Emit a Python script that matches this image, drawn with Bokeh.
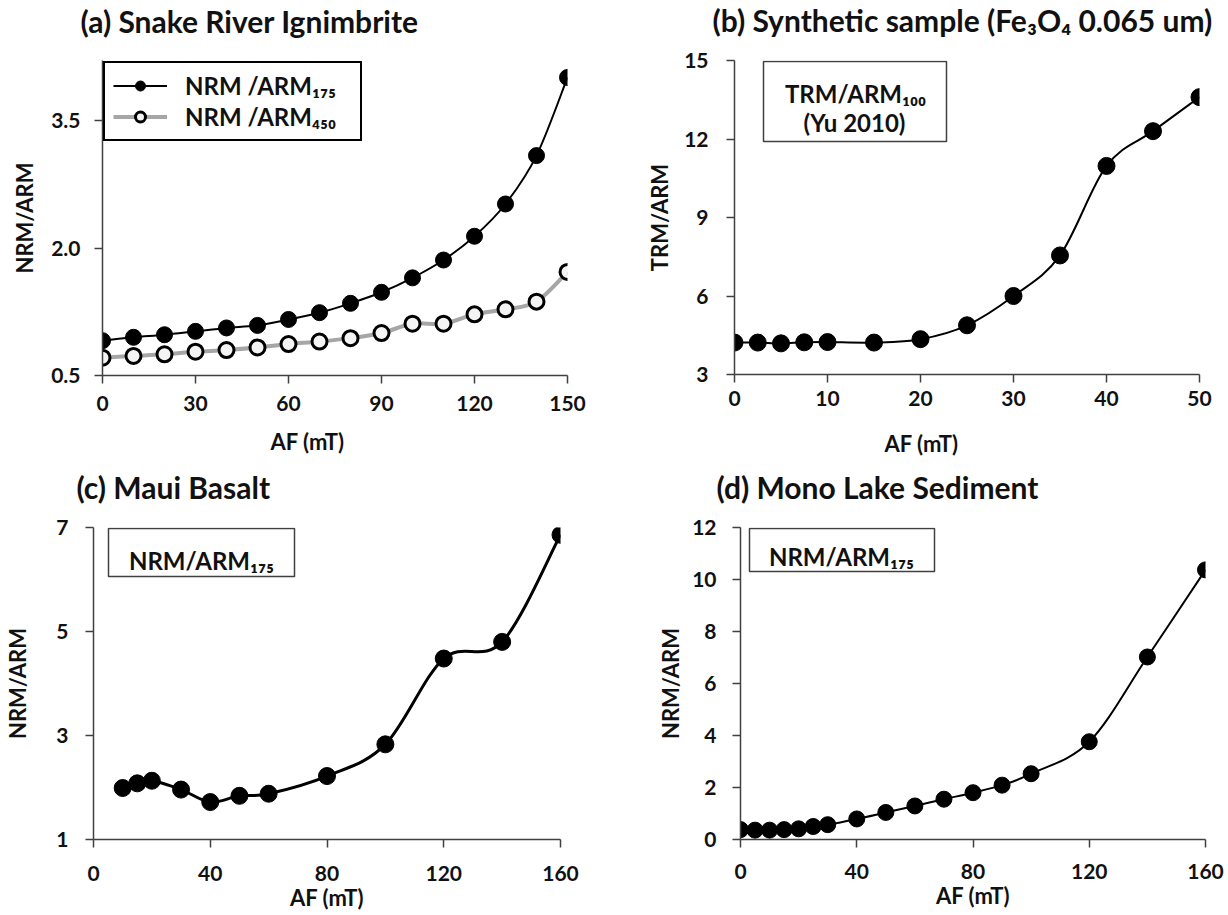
import math
from bokeh.plotting import figure
from bokeh.models import (Label, BoxAnnotation, Legend, LegendItem, FixedTicker,
                          PrintfTickFormatter, Range1d, Title)
from bokeh.layouts import column, row
from bokeh.embed import file_html
from bokeh.resources import INLINE

# ---------------- data ----------------
a_af = [0, 10, 20, 30, 40, 50, 60, 70, 80, 90, 100, 110, 120, 130, 140, 150]
a_arm175 = [0.91, 0.95, 0.98, 1.02, 1.06, 1.09, 1.16, 1.24, 1.35, 1.48, 1.65, 1.86, 2.14, 2.52, 3.09, 4.01]
a_arm450 = [0.71, 0.73, 0.75, 0.78, 0.80, 0.83, 0.87, 0.90, 0.94, 1.00, 1.11, 1.11, 1.22, 1.28, 1.37, 1.72]

b_af = [0, 2.5, 5, 7.5, 10, 15, 20, 25, 30, 35, 40, 45, 50]
b_ratio = [4.22, 4.22, 4.19, 4.23, 4.24, 4.22, 4.35, 4.88, 6.0, 7.55, 10.97, 12.3, 13.6]

c_af = [10, 15, 20, 30, 40, 50, 60, 80, 100, 120, 140, 160]
c_ratio = [1.99, 2.08, 2.13, 1.96, 1.72, 1.84, 1.88, 2.22, 2.83, 4.48, 4.80, 6.86]

d_af = [0, 5, 10, 15, 20, 25, 30, 40, 50, 60, 70, 80, 90, 100, 120, 140, 160]
d_ratio = [0.38, 0.36, 0.36, 0.38, 0.41, 0.50, 0.57, 0.79, 1.04, 1.29, 1.55, 1.80, 2.09, 2.53, 3.76, 7.02, 10.37]

a_xticks = [0, 30, 60, 90, 120, 150]
a_yticks = [0.5, 2.0, 3.5]
b_xticks = [0, 10, 20, 30, 40, 50]
b_yticks = [3, 6, 9, 12, 15]
c_xticks = [0, 40, 80, 120, 160]
c_yticks = [1, 3, 5, 7]
d_xticks = [0, 40, 80, 120, 160]
d_yticks = [0, 2, 4, 6, 8, 10, 12]

titles = ["(a) Snake River Ignimbrite",
          "(b) Synthetic sample (Fe\u2083O\u2084 0.065 um)",
          "(c) Maui Basalt",
          "(d) Mono Lake Sediment"]
x_label = "AF (mT)"

FONT = "Lato"
AXC = "#404040"
TXT = "#111111"
HALF = 614


def smooth(xs, ys):
    """Bezier segments (Catmull-Rom style, like a spreadsheet smoothed line)."""
    n = len(xs)
    out = dict(x0=[], y0=[], x1=[], y1=[], cx0=[], cy0=[], cx1=[], cy1=[])
    for i in range(n - 1):
        i0 = max(i - 1, 0)
        i3 = min(i + 2, n - 1)
        out["x0"].append(xs[i]); out["y0"].append(ys[i])
        out["x1"].append(xs[i + 1]); out["y1"].append(ys[i + 1])
        out["cx0"].append(xs[i] + (xs[i + 1] - xs[i0]) / 6.0)
        out["cy0"].append(ys[i] + (ys[i + 1] - ys[i0]) / 6.0)
        out["cx1"].append(xs[i + 1] - (xs[i3] - xs[i]) / 6.0)
        out["cy1"].append(ys[i + 1] - (ys[i3] - ys[i]) / 6.0)
    return out


def title_obj(text, size, align, offset, standoff):
    return Title(text=text, align=align, offset=offset, standoff=standoff, vertical_align="top",
                 text_font=FONT, text_font_style="bold", text_font_size=size, text_color=TXT)


def make_fig(fw, fh, left, right, top, bottom, xr, yr, xt, yt, xso, yso, ylab, ystd):
    p = figure(frame_width=fw, frame_height=fh, min_border_left=left, min_border_right=right,
               min_border_top=top, min_border_bottom=bottom, x_range=Range1d(*xr),
               y_range=Range1d(*yr), toolbar_location=None, output_backend="svg")
    p.outline_line_color = None
    p.grid.visible = False
    p.background_fill_color = "white"
    p.border_fill_color = "white"
    for ax, ticks, so in ((p.xaxis, xt, xso), (p.yaxis, yt, yso)):
        ax.ticker = FixedTicker(ticks=ticks, minor_ticks=[])
        ax.axis_line_color = AXC
        ax.axis_line_width = 1.5
        ax.major_tick_line_color = AXC
        ax.major_tick_line_width = 1.5
        ax.major_tick_out = 8
        ax.major_tick_in = 0
        ax.minor_tick_line_color = None
        ax.major_label_text_font = FONT
        ax.major_label_text_font_style = "bold"
        ax.major_label_text_font_size = "21px"
        ax.major_label_text_color = TXT
        ax.major_label_standoff = so
    p.yaxis.axis_label = ylab
    p.yaxis.axis_label_standoff = ystd
    p.yaxis.axis_label_text_font = FONT
    p.yaxis.axis_label_text_font_style = "bold"
    p.yaxis.axis_label_text_font_size = "22px"
    p.yaxis.axis_label_text_color = TXT
    return p


def strip(h, items):
    """A blank band whose texts are titles stacked below a 1px frame."""
    s = figure(frame_width=HALF, frame_height=1, min_border_left=0, min_border_right=0,
               min_border_top=0, min_border_bottom=h - 1, x_axis_type=None, y_axis_type=None,
               toolbar_location=None, output_backend="svg")
    s.outline_line_color = None
    s.background_fill_color = "white"
    s.border_fill_color = "white"
    for it in items:
        s.add_layout(title_obj(*it), "below")
    return s


def txt(p, x, y, text, size="24px", align="center"):
    p.add_layout(Label(x=x, y=y, x_units="screen", y_units="screen", text=text,
                       text_font=FONT, text_font_style="bold", text_font_size=size,
                       text_color=TXT, text_align=align, text_baseline="alphabetic"))


def box(p, l, r, t, b):
    p.add_layout(BoxAnnotation(left=l, right=r, top=t, bottom=b, left_units="screen",
                               right_units="screen", top_units="screen", bottom_units="screen",
                               fill_color=None, fill_alpha=0, line_color=AXC, line_alpha=1,
                               line_width=1.5))


# ---------------- bands with titles / x labels ----------------
st_a = strip(46, [(titles[0], "30px", "left", 80, 2)])
st_b = strip(46, [(titles[1], "30px", "left", 98, 0)])
sm_a = strip(92, [(x_label, "22px", "center", -17, 14), (titles[2], "30px", "left", 76, 10)])
sm_b = strip(92, [(x_label, "22px", "center", 11, 19), (titles[3], "30px", "left", 102, 0)])

# ---------------- panel a ----------------
pa = make_fig(465, 315, 102, 47, 12, 46, (0, 150), (0.5, 4.21), a_xticks, a_yticks, 12, 14,
              "NRM/ARM", 10)
pa.yaxis.formatter = PrintfTickFormatter(format="%.1f")
bz450 = pa.bezier(**smooth(a_af, a_arm450), line_color="#a6a6a6", line_width=4)
sc450 = pa.scatter(a_af, a_arm450, size=15, fill_color="#f4f4f4", line_color="black", line_width=3)
bz175 = pa.bezier(**smooth(a_af, a_arm175), line_color="black", line_width=2)
sc175 = pa.scatter(a_af, a_arm175, size=16, fill_color="black", line_color="black")
leg = Legend(items=[LegendItem(label="NRM /ARM\u2081\u2087\u2085", renderers=[bz175, sc175]),
                    LegendItem(label="NRM /ARM\u2084\u2085\u2080", renderers=[bz450, sc450])],
             location="top_left", margin=1, padding=8, spacing=2, glyph_width=54,
             glyph_height=25, label_standoff=18, label_width=167, label_text_font=FONT,
             label_text_font_style="bold", label_text_font_size="24px", label_text_color=TXT,
             border_line_color="black", border_line_alpha=1, border_line_width=2.5,
             background_fill_color="white", background_fill_alpha=1)
pa.add_layout(leg)

# ---------------- panel b ----------------
pb = make_fig(465, 314, 120, 29, 14, 45, (0, 50), (3, 15), b_xticks, b_yticks, 8, 18,
              "TRM/ARM", 8)
pb.bezier(**smooth(b_af, b_ratio), line_color="black", line_width=2)
pb.scatter(b_af, b_ratio, size=17, fill_color="black", line_color="black")
box(pb, 29, 212, 313, 233)
txt(pb, 121, 281, "TRM/ARM\u2081\u2080\u2080")
txt(pb, 120, 252, "(Yu 2010)")

# ---------------- panel c ----------------
pc = make_fig(467, 312, 93, 54, 16, 76, (0, 160), (1, 7), c_xticks, c_yticks, 18, 17,
              "NRM/ARM", 22)
pc.add_layout(title_obj(x_label, "22px", "center", -2.5, 0), "below")
pc.bezier(**smooth(c_af, c_ratio), line_color="black", line_width=3)
pc.scatter(c_af, c_ratio, size=17, fill_color="black", line_color="black")
box(pc, 15, 201, 311, 263)
txt(pc, 108, 279, "NRM/ARM\u2081\u2087\u2085")

# ---------------- panel d ----------------
pd_ = make_fig(465, 312, 126, 23, 12, 76, (0, 160), (0, 12), d_xticks, d_yticks, 16, 16,
               "NRM/ARM", 5)
pd_.add_layout(title_obj(x_label, "22px", "center", -2.5, 0), "below")
pd_.bezier(**smooth(d_af, d_ratio), line_color="black", line_width=2)
pd_.scatter(d_af, d_ratio, size=16, fill_color="black", line_color="black")
box(pd_, 9, 194, 311, 268)
txt(pd_, 101, 283, "NRM/ARM\u2081\u2087\u2085")

layout = column(row(st_a, st_b), row(pa, pb), row(sm_a, sm_b), row(pc, pd_))
open("out.html", "w").write(file_html(layout, INLINE))
